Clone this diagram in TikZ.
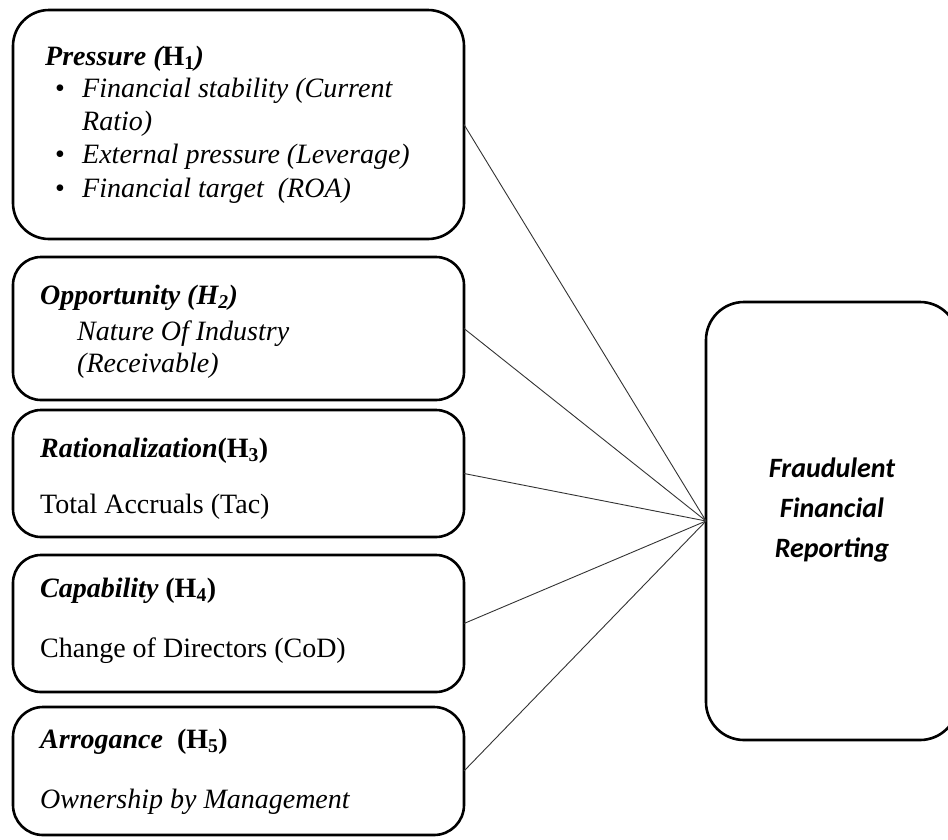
\documentclass[tikz,border=0pt]{standalone}
\usepackage{fontspec}
\setmainfont{Liberation Serif}
\newfontfamily\calib{Carlito}
\tikzset{
  box/.style={draw=black, line width=2.6pt, inner sep=0pt, outer sep=0pt, fill=white},
  txt/.style={anchor=base west, inner sep=0pt, font=\fontsize{28}{33}\selectfont},
  rtxt/.style={anchor=base, inner sep=0pt, font=\calib\bfseries\itshape\fontsize{28}{33}\selectfont},
  conn/.style={line width=0.9pt, draw=black!80},
}
\begin{document}
\begin{tikzpicture}[x=1pt,y=-1pt]
\useasboundingbox (0,0) rectangle (948,839);
% left boxes
\node[box, rounded corners=36pt, minimum width=451pt, minimum height=229pt] (b1) at (238.5,124.5) {};
\node[box, rounded corners=28pt, minimum width=451pt, minimum height=143pt] (b2) at (238.5,328.5) {};
\node[box, rounded corners=28pt, minimum width=451pt, minimum height=127pt] (b3) at (238.5,473.5) {};
\node[box, rounded corners=28pt, minimum width=451pt, minimum height=137pt] (b4) at (238.5,623.5) {};
\node[box, rounded corners=30pt, minimum width=451pt, minimum height=128pt] (b5) at (238.5,771) {};
% right box
\node[box, rounded corners=38pt, minimum width=252pt, minimum height=438pt] (fr) at (832,521) {};
% connectors
\draw[conn] (b1.east) -- (fr.west);
\draw[conn] (b2.east) -- (fr.west);
\draw[conn] (b3.east) -- (fr.west);
\draw[conn] (b4.east) -- (fr.west);
\draw[conn] (b5.east) -- (fr.west);
% box 1 text
\node[txt] (t1h) at (45,65) {\bfseries\itshape Pressure (\upshape H\textsubscript{1}\itshape)};
\node[txt] (t1ba) at (55,97) {•};
\node[txt] (t1a) at (82,97) {\itshape Financial stability (Current};
\node[txt] (t1a2) at (82,130) {\itshape Ratio)};
\node[txt] (t1bb) at (55,163) {•};
\node[txt] (t1b) at (82,163) {\itshape External pressure (Leverage)};
\node[txt] (t1bc) at (55,197) {•};
\node[txt] (t1c) at (82,197) {\itshape Financial target\ \ (ROA)};
% box 2 text
\node[txt] (t2h) at (40,304) {\bfseries\itshape Opportunity (H\textsubscript{2})};
\node[txt] (t2a) at (77,340) {\itshape Nature Of Industry};
\node[txt] (t2b) at (77,372) {\itshape (Receivable)};
% box 3 text
\node[txt] (t3h) at (40,457) {\bfseries\itshape Rationalization\upshape(H\textsubscript{3})};
\node[txt] (t3a) at (40,513) {Total Accruals (Tac)};
% box 4 text
\node[txt] (t4h) at (40,597) {\bfseries\itshape Capability \upshape(H\textsubscript{4})};
\node[txt] (t4a) at (40,657) {Change of Directors (CoD)};
% box 5 text
\node[txt] (t5h) at (40,748) {\bfseries\itshape Arrogance\ \ \upshape(H\textsubscript{5})};
\node[txt] (t5a) at (40,808) {\itshape Ownership by Management};
% right box text
\node[rtxt] (r1) at (832,477) {Fraudulent};
\node[rtxt] (r2) at (832,517) {Financial};
\node[rtxt] (r3) at (832,557) {Reporting};
\end{tikzpicture}
\end{document}
